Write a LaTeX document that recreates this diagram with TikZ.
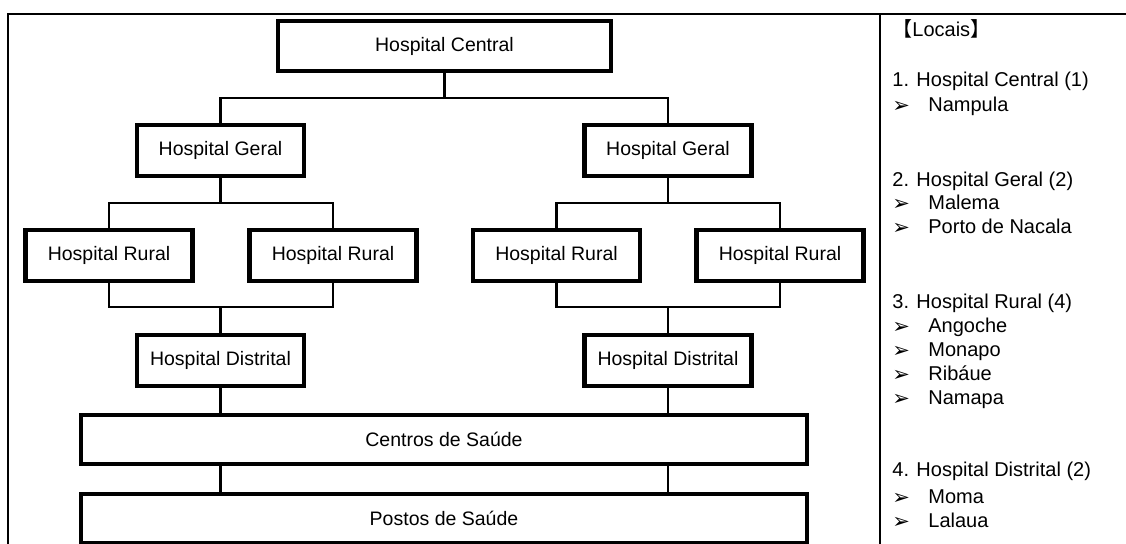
\documentclass[tikz,border=0pt]{standalone}
\usepackage{fontspec}
\setmainfont{Liberation Sans}
\newfontfamily\cjkfont{Noto Sans CJK JP}
\newfontfamily\symfont{DejaVu Sans}
\usetikzlibrary{positioning}

\newcommand{\locbullet}{\makebox[18pt][l]{\raisebox{-0.3pt}{\symfont\fontsize{10.5}{12}\selectfont ➢}}}

\tikzset{
  unit/.style={draw, line width=2.2pt, minimum width=83.5pt, minimum height=25.5pt,
    inner sep=0pt, font=\fontsize{9.75}{11}\selectfont},
  link/.style={line width=1.1pt},
  frame/.style={line width=1.2pt},
  item/.style={anchor=base west, inner sep=0pt, font=\fontsize{10}{12}\selectfont},
}

\begin{document}
\begin{tikzpicture}[x=0.5pt,y=-0.5pt]
\useasboundingbox (0,0) rectangle (1126,544);
% frame
\draw [frame] (8,544) -- (8,14) -- (1126,14);
\draw [frame] (880,14) -- (880,544);
% hierarchy
\node [unit, minimum width=166.5pt, minimum height=25pt] (central) at (444.5,46) {Hospital Central};
\node [unit] (geralL) at (220.5,150.5) {Hospital Geral};
\node [unit] (geralR) at (668,150.5) {Hospital Geral};
\node [unit] (hr1) at (109,255.5) {Hospital Rural};
\node [unit] (hr2) at (333,255.5) {Hospital Rural};
\node [unit] (hr3) at (556.5,255.5) {Hospital Rural};
\node [unit] (hr4) at (780,255.5) {Hospital Rural};
\node [unit] (distL) at (220.5,360.5) {Hospital Distrital};
\node [unit] (distR) at (668,360.5) {Hospital Distrital};
\node [unit, minimum width=363pt, minimum height=24.5pt] (centros) at (444,439.5) {Centros de Saúde};
\node [unit, minimum width=363pt, minimum height=24.5pt] (postos) at (444,518.5) {Postos de Saúde};
% connectors
\draw [link] (central.south) -- ++(0,25) -| (geralL.north);
\draw [link] (central.south) -- ++(0,25) -| (geralR.north);
\draw [link] (geralL.south) -- ++(0,25) -| (hr1.north);
\draw [link] (geralL.south) -- ++(0,25) -| (hr2.north);
\draw [link] (geralR.south) -- ++(0,25) -| (hr3.north);
\draw [link] (geralR.south) -- ++(0,25) -| (hr4.north);
\draw [link] (hr1.south) -- ++(0,24) -| (distL.north);
\draw [link] (hr2.south) -- ++(0,24) -| (distL.north);
\draw [link] (hr3.south) -- ++(0,24) -| (distR.north);
\draw [link] (hr4.south) -- ++(0,24) -| (distR.north);
\draw [link] (distL.south) -- (distL.south |- centros.north);
\draw [link] (distR.south) -- (distR.south |- centros.north);
\draw [link] (centros.south -| distL) -- (postos.north -| distL);
\draw [link] (centros.south -| distR) -- (postos.north -| distR);
% locations
\node [item] (loc) at (892,37) {{\cjkfont 【}Locais{\cjkfont 】}};
\node [item] (l1) at (892,87) {1. Hospital Central (1)};
\node [item] (l1a) at (892,112) {\locbullet Nampula};
\node [item] (l2) at (892,187) {2. Hospital Geral (2)};
\node [item] (l2a) at (892,210) {\locbullet Malema};
\node [item] (l2b) at (892,234) {\locbullet Porto de Nacala};
\node [item] (l3) at (892,309) {3. Hospital Rural (4)};
\node [item] (l3a) at (892,333) {\locbullet Angoche};
\node [item] (l3b) at (892,357) {\locbullet Monapo};
\node [item] (l3c) at (892,381) {\locbullet Ribáue};
\node [item] (l3d) at (892,405) {\locbullet Namapa};
\node [item] (l4) at (892,477) {4. Hospital Distrital (2)};
\node [item] (l4a) at (892,504) {\locbullet Moma};
\node [item] (l4b) at (892,528) {\locbullet Lalaua};
\end{tikzpicture}
\end{document}
